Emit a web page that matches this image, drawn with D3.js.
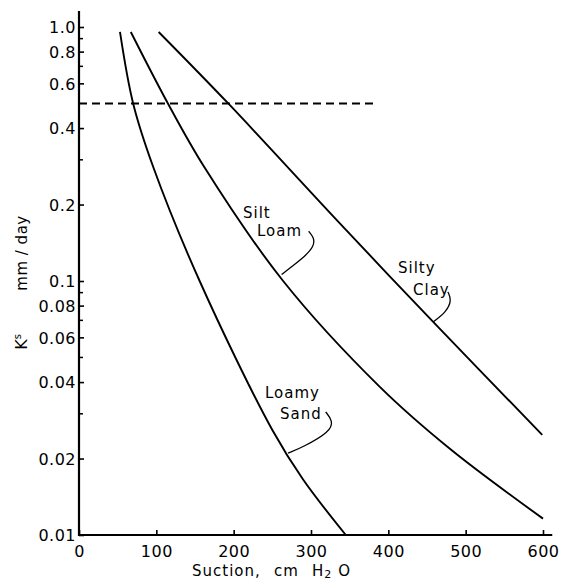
<!DOCTYPE html>
<html><head><meta charset="utf-8">
<script src="https://cdn.jsdelivr.net/npm/d3@7/dist/d3.min.js"></script>
<style>
html,body{margin:0;padding:0;background:#fff;}
svg text{font-family:"DejaVu Sans",sans-serif;fill:#000;}
</style></head>
<body><svg id="chart" width="566" height="587"></svg>
<script>
// ---- data ----
const xTickValues = [0,100,200,300,400,500,600];
const xTickLabels = ["0","100","200","300","400","500","600"];
const yTickValues = [1.0,0.8,0.6,0.4,0.2,0.1,0.08,0.06,0.04,0.02,0.01];
const yTickLabels = ["1.0","0.8","0.6","0.4","0.2","0.1","0.08","0.06","0.04","0.02","0.01"];
const yMinorTicks = [0.9,0.7,0.3,0.09,0.07,0.05,0.03];

const loamySandX = [53,70,96,156,250,290,345];
const loamySandY = [0.956,0.5,0.281,0.1,0.0259,0.0165,0.01];
const siltLoamX = [67,115,162,264,389,480,600];
const siltLoamY = [0.956,0.5,0.281,0.1,0.0383,0.0218,0.0116];
const siltyClayX = [103,193,337,458,599];
const siltyClayY = [0.956,0.5,0.169,0.069,0.0248];

const dashedLevel = 0.5;
const dashedXRange = [0,383];

// annotation leaders (data units)
const siltLoamLeaderX = [297,304,304,292,275,262];
const siltLoamLeaderY = [0.157,0.148,0.137,0.125,0.114,0.106];
const siltyClayLeaderX = [477,482,475,458];
const siltyClayLeaderY = [0.0905,0.0842,0.0755,0.069];
const loamySandLeaderX = [319,328.5,324.6,290,270.3];
const loamySandLeaderY = [0.0305,0.0281,0.0255,0.0222,0.021];

// ---- layout ----
const svg = d3.select("#chart");
const x = d3.scaleLinear().domain([0,600]).range([79,543]);
const y = d3.scaleLog().domain([0.01,1]).range([535,27]);

const g = svg.append("g");

// axes lines
g.append("line").attr("x1",x(0)).attr("x2",x(0)).attr("y1",y(0.01)+1).attr("y2",y(1.156))
  .attr("stroke","#000").attr("stroke-width",2.2);
g.append("line").attr("x1",x(0)-1).attr("x2",x(612)).attr("y1",y(0.01)).attr("y2",y(0.01))
  .attr("stroke","#000").attr("stroke-width",2.2);

// y axis
const yAxis = d3.axisLeft(y).tickValues(yTickValues)
  .tickFormat((d,i)=>yTickLabels[i]).tickSizeInner(-5).tickSizeOuter(0).tickPadding(3);
const ya = g.append("g").attr("transform",`translate(${x(0)},0)`).call(yAxis);
ya.select(".domain").remove();
ya.selectAll(".tick line").attr("stroke","#000").attr("stroke-width",1.6);
ya.selectAll(".tick text").attr("font-size","16px").attr("letter-spacing","0.5px").attr("dy","0.36em");

g.selectAll(".yminor").data(yMinorTicks).enter().append("line")
  .attr("x1",x(0)).attr("x2",x(0)+4).attr("y1",d=>y(d)).attr("y2",d=>y(d))
  .attr("stroke","#000").attr("stroke-width",1.5);

// x axis
const xAxis = d3.axisBottom(x).tickValues(xTickValues)
  .tickFormat((d,i)=>xTickLabels[i]).tickSizeInner(-5).tickSizeOuter(0).tickPadding(11);
const xa = g.append("g").attr("transform",`translate(0,${y(0.01)})`).call(xAxis);
xa.select(".domain").remove();
xa.selectAll(".tick line").attr("stroke","#000").attr("stroke-width",1.6);
xa.selectAll(".tick text").attr("font-size","16px").attr("letter-spacing","0.5px");

// curves
const line = d3.line().x(d=>x(d[0])).y(d=>y(d[1])).curve(d3.curveCatmullRom.alpha(0.5));
const series = [
  [loamySandX, loamySandY],
  [siltLoamX, siltLoamY],
  [siltyClayX, siltyClayY]
];
series.forEach(([xs,ys])=>{
  g.append("path").datum(xs.map((v,i)=>[v,ys[i]])).attr("d",line)
    .attr("fill","none").attr("stroke","#000").attr("stroke-width",1.9);
});

// dashed line
g.append("line").attr("x1",x(dashedXRange[0])).attr("x2",x(dashedXRange[1]))
  .attr("y1",y(dashedLevel)).attr("y2",y(dashedLevel))
  .attr("stroke","#000").attr("stroke-width",2).attr("stroke-dasharray","8,5");

// leaders
const leader = d3.line().x(d=>x(d[0])).y(d=>y(d[1])).curve(d3.curveBasis);
[[siltLoamLeaderX,siltLoamLeaderY],[siltyClayLeaderX,siltyClayLeaderY],[loamySandLeaderX,loamySandLeaderY]]
.forEach(([xs,ys])=>{
  g.append("path").datum(xs.map((v,i)=>[v,ys[i]])).attr("d",leader)
    .attr("fill","none").attr("stroke","#000").attr("stroke-width",1.3);
});

// curve labels
const labels = [
  {t:"Silt", px:243, py:218},
  {t:"Loam", px:257, py:236},
  {t:"Silty", px:398, py:273},
  {t:"Clay", px:413, py:295},
  {t:"Loamy", px:265, py:398},
  {t:"Sand", px:280, py:419}
];
labels.forEach(l=>{
  g.append("text").attr("x",l.px).attr("y",l.py).attr("font-size","15px")
    .attr("letter-spacing","1px").text(l.t);
});

// x axis title
const xt = g.append("text").attr("x",192).attr("y",576).attr("font-size","15px").attr("letter-spacing","1px");
xt.append("tspan").text("Suction,");
xt.append("tspan").attr("x",274).text("cm");
xt.append("tspan").attr("x",312).text("H");
xt.append("tspan").attr("font-size","11px").attr("dy",2).text("2");
xt.append("tspan").attr("dy",-2).attr("dx",6).text("O");

// y axis titles
g.append("text").attr("transform","translate(27,253) rotate(-90)").attr("text-anchor","middle")
  .attr("font-size","15px").attr("letter-spacing","0.5px").text("mm / day");
const kt = g.append("text").attr("transform","translate(27,342) rotate(-90)").attr("text-anchor","middle")
  .attr("font-size","16px");
kt.append("tspan").text("K");
kt.append("tspan").attr("font-size","10px").attr("dy",-6).text("s");
</script></body></html>
